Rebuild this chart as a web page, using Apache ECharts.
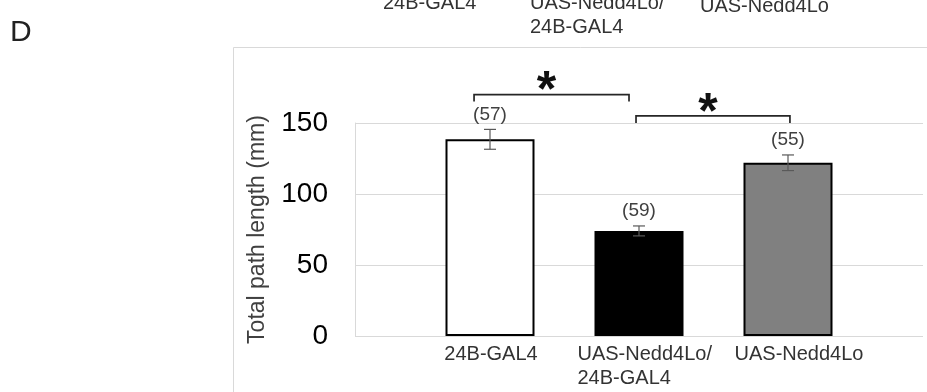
<!DOCTYPE html>
<html><head><meta charset="utf-8">
<script src="https://cdn.jsdelivr.net/npm/echarts@6/dist/echarts.min.js"></script>
<style>html,body{margin:0;padding:0;background:#fff}#c{width:927px;height:392px}</style>
</head><body><div id="c"></div>
<script>
// ---- data ----
const categories = ['24B-GAL4', 'UAS-Nedd4Lo/\n24B-GAL4', 'UAS-Nedd4Lo'];
const meanValues = [138.5, 74, 122];
const semValues = [7, 3.5, 5.5];
const sampleSizes = [57, 59, 55];
const barColors = ['#ffffff', '#000000', '#808080'];
const yTickMin = 0, yTickMax = 150, yTickStep = 50;
const bracketPairs = [[0, 1], [1, 2]];
const bracketLevels = [170, 155];
const bracketMarks = ['*', '*'];
const previousPanelLabels = ['24B-GAL4', 'UAS-Nedd4Lo/\n24B-GAL4', 'UAS-Nedd4Lo'];
const panelLetter = 'D';
const yAxisTitle = 'Total path length (mm)';

// ---- chart ----
const FONT = '"Liberation Sans", Arial, Helvetica, sans-serif';
const chart = echarts.init(document.getElementById('c'), null, {renderer: 'canvas'});
const bracketInsets = [[-0.107, -0.067], [-0.02, 0.013]];

const option = {
  animation: false,
  backgroundColor: '#fff',
  textStyle: {fontFamily: FONT},
  grid: [
    {left: 355, right: 4, top: 123, height: 213},
    {left: 415.5, width: 447, top: 123, height: 213},
    {left: 414, width: 462, top: 123, height: 213}
  ],
  xAxis: [
    {gridIndex: 0, type: 'category', data: categories, show: false},
    {gridIndex: 1, type: 'category', data: categories, axisLine: {show: false}, axisTick: {show: false}, axisLabel: {show: false}},
    {gridIndex: 2, type: 'category', data: categories, axisLine: {show: false}, axisTick: {show: false},
      axisLabel: {
        interval: 0, margin: 6, fontSize: 20, lineHeight: 24, color: '#333', fontFamily: FONT,
        formatter: function (v) {
          const parts = v.split('\n');
          if (parts.length === 1) return v;
          return parts.map(s => '{w|' + s + '}').join('\n');
        },
        rich: {w: {fontSize: 20, lineHeight: 24, width: 135, align: 'left', color: '#333', fontFamily: FONT}}
      }
    }
  ],
  yAxis: [
    {gridIndex: 0, type: 'value', min: yTickMin, max: yTickMax, interval: yTickStep,
      axisLine: {show: true, lineStyle: {color: '#d9d9d9', width: 1}},
      axisTick: {show: false},
      splitLine: {show: true, lineStyle: {color: '#d9d9d9', width: 1}},
      axisLabel: {fontSize: 28, color: '#000', margin: 27, fontFamily: FONT},
      name: yAxisTitle, nameLocation: 'middle', nameGap: 86,
      nameTextStyle: {fontSize: 23, color: '#404040', fontFamily: FONT}
    },
    {gridIndex: 1, type: 'value', min: yTickMin, max: yTickMax, interval: yTickStep, show: false},
    {gridIndex: 2, type: 'value', min: yTickMin, max: yTickMax, interval: yTickStep, show: false}
  ],
  series: [
    {
      type: 'bar', xAxisIndex: 1, yAxisIndex: 1, barWidth: 89,
      data: meanValues.map((v, i) => ({value: v, itemStyle: {color: barColors[i], borderColor: '#000', borderWidth: 2}})),
      silent: true
    },
    {
      type: 'custom', xAxisIndex: 1, yAxisIndex: 1, z: 5,
      data: meanValues.map((v, i) => [i, v - semValues[i], v + semValues[i], sampleSizes[i]]),
      renderItem: function (params, api) {
        const lo = api.coord([api.value(0), api.value(1)]);
        const hi = api.coord([api.value(0), api.value(2)]);
        const hw = 6;
        const st = {stroke: '#595959', lineWidth: 1.2};
        return {type: 'group', children: [
          {type: 'line', shape: {x1: hi[0], y1: hi[1], x2: lo[0], y2: lo[1]}, style: st},
          {type: 'line', shape: {x1: hi[0] - hw, y1: hi[1], x2: hi[0] + hw, y2: hi[1]}, style: st},
          {type: 'line', shape: {x1: lo[0] - hw, y1: lo[1], x2: lo[0] + hw, y2: lo[1]}, style: st},
          {type: 'text', x: hi[0], y: hi[1] - 15, style: {text: '(' + api.value(3) + ')', fontSize: 19, fontFamily: FONT, fill: '#404040', align: 'center', verticalAlign: 'middle'}}
        ]};
      }
    },
    {
      type: 'custom', xAxisIndex: 1, yAxisIndex: 1, z: 5,
      data: bracketPairs.map((p, i) => [p[0], p[1], bracketLevels[i]]),
      renderItem: function (params, api) {
        const band = api.size([1, 0])[0];
        const ins = bracketInsets[params.dataIndex];
        const a = api.coord([api.value(0), api.value(2)]);
        const b = api.coord([api.value(1), api.value(2)]);
        const x1 = a[0] + ins[0] * band, x2 = b[0] + ins[1] * band, y = a[1], drop = 7;
        return {type: 'group', children: [
          {type: 'polyline', shape: {points: [[x1, y + drop], [x1, y], [x2, y], [x2, y + drop]]}, style: {stroke: '#262626', lineWidth: 1.7, fill: null}},
          {type: 'text', x: (x1 + x2) / 2 - 5, y: y - 2, style: {text: bracketMarks[params.dataIndex], fontSize: 50, fontWeight: 'bold', fontFamily: FONT, fill: '#111', align: 'center', verticalAlign: 'middle'}}
        ]};
      }
    }
  ],
  graphic: [
    {type: 'rect', z: -10, silent: true, shape: {x: 233.5, y: 47.5, width: 900, height: 600}, style: {fill: null, stroke: '#d9d9d9', lineWidth: 1}},
    {type: 'text', left: 10, top: 18, style: {text: panelLetter, fontSize: 30, fill: '#222', fontFamily: FONT}},
    {type: 'text', x: 383, y: 3, style: {text: previousPanelLabels[0], fontSize: 20, lineHeight: 24, fill: '#333', fontFamily: FONT, align: 'left', verticalAlign: 'middle'}},
    {type: 'text', x: 530, y: 3, style: {text: previousPanelLabels[1].split('\n')[0], fontSize: 20, fill: '#333', fontFamily: FONT, align: 'left', verticalAlign: 'middle'}},
    {type: 'text', x: 530, y: 27, style: {text: previousPanelLabels[1].split('\n')[1], fontSize: 20, fill: '#333', fontFamily: FONT, align: 'left', verticalAlign: 'middle'}},
    {type: 'text', x: 700, y: 6, style: {text: previousPanelLabels[2], fontSize: 20, fill: '#333', fontFamily: FONT, align: 'left', verticalAlign: 'middle'}}
  ]
};
chart.setOption(option);
</script>
</body></html>
